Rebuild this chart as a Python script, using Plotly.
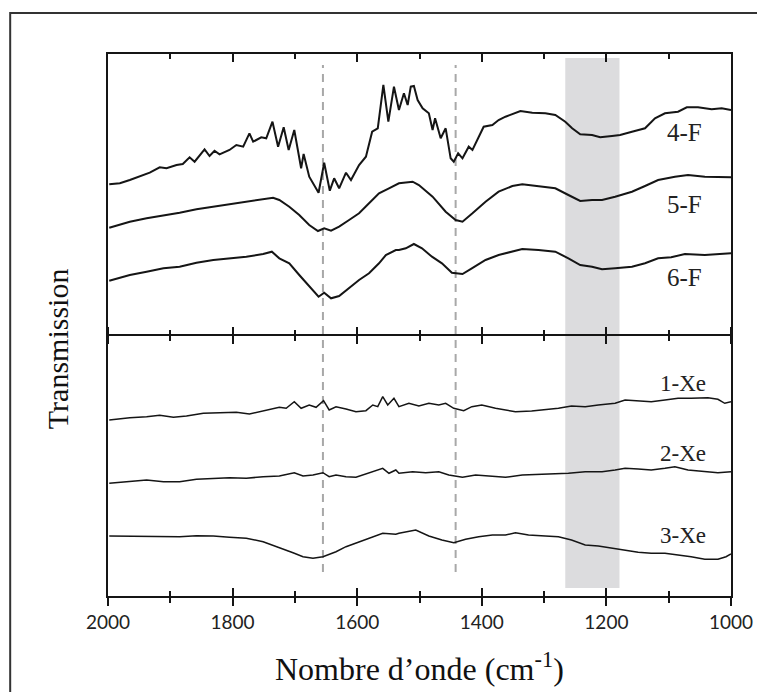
import plotly.graph_objects as go

# ---------------- data (wavenumber cm-1, transmission in arbitrary offset units) ----------------
f4_x = [1998, 1981, 1965, 1949, 1933, 1917, 1906, 1890, 1880, 1869, 1861, 1845, 1837, 1829, 1821,
        1805, 1794, 1783, 1773, 1767, 1754, 1746, 1736, 1727, 1718, 1710, 1701, 1690, 1686, 1677,
        1662, 1653, 1644, 1637, 1629, 1618, 1610, 1597, 1586, 1576, 1567, 1558, 1550, 1541, 1533,
        1525, 1519, 1514, 1509, 1503, 1495, 1485, 1479, 1475, 1466, 1458, 1450, 1445, 1438, 1431,
        1421, 1415, 1405, 1397, 1383, 1373, 1362, 1351, 1338, 1319, 1298, 1282, 1266, 1255, 1242,
        1223, 1210, 1191, 1178, 1159, 1138, 1122, 1106, 1085, 1071, 1053, 1031, 1015, 1000]
f4_y = [415.7, 416.7, 420, 424, 427.3, 432.7, 431.7, 435, 436, 442.7, 438.3, 450.7, 444, 449.3, 445.7,
        450, 455, 453.3, 466.7, 458.3, 462.7, 461.7, 478.3, 453.3, 472.7, 450, 470, 431.7, 446, 423.3,
        407.3, 437.3, 409.3, 421.7, 411.7, 427.3, 420, 435, 443.3, 468.3, 471.7, 515, 478.3, 513.3, 490,
        506.7, 495, 513.3, 514, 500, 491.7, 486.7, 470, 481.7, 461.7, 471.7, 441.7, 438.3, 446.7, 441.7,
        453.3, 450, 463.3, 473.3, 475, 480, 483.3, 486, 489, 487.3, 486.7, 485, 478.3, 471.7, 465.7,
        465, 462.7, 464, 465, 468.3, 471.7, 481.7, 486.7, 488.3, 492.7, 492.7, 490.7, 491.7, 490]

f5_x = [1998, 1965, 1938, 1911, 1885, 1858, 1831, 1805, 1778, 1751, 1735, 1725, 1709, 1693, 1677,
        1663, 1653, 1642, 1629, 1613, 1597, 1581, 1565, 1549, 1533, 1511, 1501, 1479, 1458, 1442,
        1431, 1415, 1394, 1373, 1351, 1335, 1309, 1282, 1261, 1242, 1223, 1207, 1186, 1159, 1138,
        1117, 1090, 1069, 1042, 1000]
f5_y = [372.3, 378.3, 381.7, 384.3, 387.3, 390.7, 393.3, 396, 398.3, 400.7, 402.3, 400, 393.3, 385, 375,
        369, 371.7, 369.3, 373.3, 380, 386.7, 396.7, 406.7, 411.7, 416.7, 418.3, 415, 403.3, 388.3, 380,
        378.3, 386.7, 398.3, 408.3, 414, 415.7, 414, 411.7, 405, 399, 400, 400, 403.3, 408.3, 414,
        420, 423.3, 425, 423.3, 422.7]

f6_x = [1998, 1965, 1938, 1911, 1885, 1858, 1831, 1805, 1778, 1751, 1737, 1725, 1709, 1693, 1677,
        1662, 1653, 1642, 1629, 1613, 1597, 1581, 1565, 1554, 1538, 1533, 1522, 1509, 1496, 1480,
        1464, 1448, 1431, 1416, 1394, 1373, 1351, 1335, 1309, 1282, 1261, 1242, 1223, 1207, 1186,
        1159, 1138, 1117, 1096, 1074, 1042, 1000]
f6_y = [319.3, 325, 328.3, 331.7, 333.3, 337.3, 340, 341.7, 343.3, 346, 348.3, 341.7, 336.7, 325, 313.3,
        303.3, 307.3, 301.7, 304, 311.7, 320, 326.7, 336.7, 345, 350, 350, 351.7, 356, 351.7, 343.3,
        336.7, 327.3, 326, 331.7, 340, 345, 348.3, 351, 350, 348.3, 341.7, 335, 333.3, 330.7, 331.7,
        333.3, 336.7, 341.7, 342.7, 346, 345, 346.7]

xe1_x = [1998, 1965, 1938, 1917, 1895, 1874, 1847, 1821, 1794, 1773, 1757, 1741, 1725, 1714, 1701,
         1690, 1677, 1666, 1654, 1645, 1634, 1618, 1602, 1586, 1575, 1567, 1559, 1551, 1541, 1533,
         1517, 1501, 1485, 1469, 1458, 1445, 1429, 1416, 1400, 1378, 1362, 1346, 1320, 1298, 1277,
         1256, 1234, 1213, 1186, 1170, 1149, 1128, 1106, 1085, 1064, 1037, 1021, 1010, 1000]
xe1_y = [180, 182.3, 183.3, 184.7, 182.7, 184, 186.7, 187.3, 187.7, 186, 188.3, 190.7, 192.7, 191.7, 198.3,
         191.7, 195, 192.7, 199.3, 190, 193.3, 191, 188.3, 189.3, 195, 193.3, 203.3, 195, 201.7, 193.3,
         196.7, 194, 196.7, 195, 196.7, 191.7, 189.3, 193.3, 195, 191.7, 190, 188.3, 189, 190, 191.7,
         194, 193.3, 195, 196.7, 200, 199.3, 198.3, 200, 201.7, 201.7, 202.3, 200.7, 196.7, 198.3]

xe2_x = [1998, 1965, 1938, 1911, 1885, 1858, 1831, 1805, 1778, 1751, 1725, 1701, 1687, 1671, 1655,
         1645, 1634, 1618, 1602, 1581, 1559, 1549, 1538, 1533, 1511, 1490, 1469, 1453, 1431, 1410,
         1389, 1362, 1335, 1309, 1282, 1261, 1234, 1207, 1186, 1170, 1149, 1128, 1106, 1090, 1069,
         1042, 1021, 1000]
xe2_y = [116.7, 118.3, 120, 118.3, 118.3, 120.7, 121.7, 122.3, 121.7, 123.3, 124, 127.3, 124, 125, 127.3,
         123.3, 125, 123.3, 122.7, 127.3, 131.7, 126.7, 130, 126.7, 128.3, 127.3, 128.3, 125, 122.7, 125,
         124.3, 122.7, 125, 125.7, 126, 126.7, 128.3, 128.3, 130, 131.7, 131, 130, 131.7, 133.3, 130,
         128.3, 127.3, 128.3]

xe3_x = [1998, 1965, 1938, 1911, 1885, 1858, 1831, 1805, 1778, 1751, 1725, 1703, 1687, 1671, 1655,
         1634, 1618, 1597, 1575, 1559, 1538, 1533, 1506, 1485, 1464, 1445, 1426, 1405, 1383, 1362,
         1346, 1325, 1298, 1277, 1256, 1234, 1213, 1191, 1170, 1149, 1128, 1106, 1085, 1064, 1042,
         1021, 1008, 1000]
xe3_y = [64, 64, 63.3, 64, 63.3, 64.3, 64, 62.7, 61.7, 58.3, 52.7, 47.3, 43.3, 41.7, 43.3,
         48.3, 53.3, 58.3, 63.3, 66.7, 65.7, 66.7, 70, 64, 60, 57.3, 60.7, 63.3, 65, 65,
         67.3, 65, 64, 63.3, 60, 55, 54, 51.7, 49.3, 47.7, 46.7, 46.7, 45, 43.3, 40.7,
         40.7, 43.3, 46]

series_labels = ["4-F", "5-F", "6-F", "1-Xe", "2-Xe", "3-Xe"]
label_x = [1074, 1074, 1074, 1077, 1077, 1077]
label_y = [468, 396, 323, 217, 147, 65]

band_marks = [1655, 1442]          # dashed reference lines
shaded_band = [1266, 1179]         # grey highlighted region
x_ticks = [2000, 1800, 1600, 1400, 1200, 1000]

# ---------------- figure ----------------
INK = "#151515"
fig = go.Figure()

curves = [(f4_x, f4_y, 2.0), (f5_x, f5_y, 2.0), (f6_x, f6_y, 2.0),
          (xe1_x, xe1_y, 1.5), (xe2_x, xe2_y, 1.5), (xe3_x, xe3_y, 1.5)]
for (xs, ys, w), name in zip(curves, series_labels):
    fig.add_trace(go.Scatter(x=xs, y=ys, mode="lines", name=name,
                             line=dict(color=INK, width=w), showlegend=False, hoverinfo="skip"))

# invisible helper traces so every decorative overlay axis is built
for ax in ["x2", "x3", "x4", "x5"]:
    fig.add_trace(go.Scatter(x=[2000, 1000], y=[None, None], xaxis=ax, yaxis="y",
                             mode="lines", showlegend=False, hoverinfo="skip"))

YR = [4, 546]
DIV = 0.4815  # divider position (paper fraction)

common = dict(range=[2000, 1000], showgrid=False, zeroline=False, tickcolor=INK,
              tickwidth=1.5, linecolor=INK, linewidth=1.5)

# the page body adds an 8px offset, so the figure is 8px smaller and margins compensate
fig.update_layout(
    width=757, height=684,
    margin=dict(l=100, r=32, t=46, b=96),
    paper_bgcolor="white", plot_bgcolor="white",
    xaxis=dict(**common, anchor="y", side="bottom", showline=True,
               ticks="outside", ticklen=8, tickvals=x_ticks,
               minor=dict(dtick=100, ticks="outside", ticklen=5, tickwidth=1.5, tickcolor=INK),
               tickfont=dict(family="Lato, Carlito, sans-serif", size=19, color="#222")),
    xaxis2=dict(**common, overlaying="x", anchor="y", side="bottom", showline=False,
                ticks="inside", ticklen=8, tickvals=x_ticks, showticklabels=False,
                minor=dict(dtick=100, ticks="inside", ticklen=5, tickwidth=1.5, tickcolor=INK)),
    xaxis3=dict(**common, overlaying="x", anchor="y", side="top", showline=True,
                ticks="inside", ticklen=8, tickvals=x_ticks, showticklabels=False,
                minor=dict(dtick=100, ticks="inside", ticklen=5, tickwidth=1.5, tickcolor=INK)),
    xaxis4=dict(**common, overlaying="x", anchor="free", position=DIV, side="bottom", showline=True,
                ticks="outside", ticklen=8, tickvals=x_ticks, showticklabels=False,
                minor=dict(dtick=100, ticks="outside", ticklen=5, tickwidth=1.5, tickcolor=INK)),
    xaxis5=dict(**common, overlaying="x", anchor="free", position=DIV, side="top", showline=False,
                ticks="outside", ticklen=8, tickvals=x_ticks, showticklabels=False,
                minor=dict(dtick=100, ticks="outside", ticklen=5, tickwidth=1.5, tickcolor=INK)),
    yaxis=dict(range=YR, showgrid=False, zeroline=False, showticklabels=False, ticks="",
               showline=True, mirror=True, linecolor=INK, linewidth=1.5),
)

# shaded band and dashed markers
fig.add_shape(type="rect", xref="x", yref="y", x0=shaded_band[0], x1=shaded_band[1],
              y0=12, y1=542, fillcolor="#dcdcde", line=dict(width=0), layer="below")
for bx in band_marks:
    fig.add_shape(type="line", xref="x", yref="y", x0=bx, x1=bx, y0=28, y1=535,
                  line=dict(color="#a8a8a8", width=2, dash="8px,6px"), layer="below")

# outer page frame (only left and top edges fall inside the picture)
fig.add_shape(type="rect", xref="paper", yref="paper", x0=-0.157, x1=1.3, y0=-0.4, y1=1.0756,
              line=dict(color="#333", width=2), fillcolor="rgba(0,0,0,0)")

# series labels
for t, lx, ly in zip(series_labels, label_x, label_y):
    fig.add_annotation(x=lx, y=ly, xref="x", yref="y", text=t, showarrow=False,
                       font=dict(family="Liberation Serif, Times New Roman, serif",
                                 size=25 if t.endswith("F") else 23, color="#222"))

# axis titles
fig.add_annotation(xref="paper", yref="paper", x=0.5, y=-0.131, showarrow=False,
                   text="Nombre d’onde (cm<sup>-1</sup>)", xanchor="center", yanchor="middle",
                   font=dict(family="Liberation Serif, Times New Roman, serif", size=32, color="#111"))
fig.add_annotation(xref="paper", yref="paper", x=-0.0816, y=0.4557, showarrow=False,
                   text="Transmission", textangle=-90, xanchor="center", yanchor="middle",
                   font=dict(family="Liberation Serif, Times New Roman, serif", size=30, color="#111"))

fig.write_html("out.html")
